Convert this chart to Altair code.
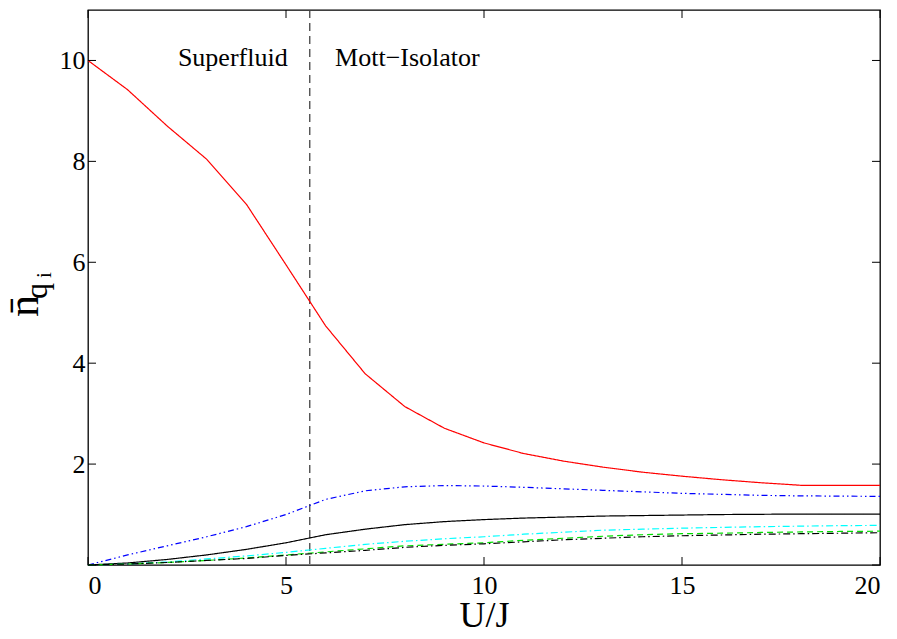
import altair as alt
import pandas as pd

# ---- data ----
u = list(range(21))
red = [10.0, 9.42, 8.70, 8.04, 7.15, 5.95, 4.74, 3.79, 3.14, 2.71, 2.42,
       2.21, 2.06, 1.94, 1.84, 1.76, 1.69, 1.63, 1.58, 1.58, 1.58]
blue = [0.0, 0.20, 0.38, 0.56, 0.76, 1.00, 1.30, 1.47, 1.55, 1.575, 1.565,
        1.54, 1.51, 1.48, 1.45, 1.42, 1.40, 1.38, 1.37, 1.365, 1.36]
black = [0.0, 0.04, 0.11, 0.20, 0.31, 0.44, 0.60, 0.71, 0.80, 0.86, 0.90,
         0.93, 0.95, 0.97, 0.98, 0.99, 1.00, 1.005, 1.01, 1.01, 1.01]
cyan = [0.0, 0.02, 0.06, 0.12, 0.18, 0.25, 0.33, 0.41, 0.47, 0.52, 0.56,
        0.61, 0.65, 0.69, 0.71, 0.73, 0.745, 0.76, 0.77, 0.78, 0.785]
green = [0.0, 0.02, 0.05, 0.09, 0.14, 0.20, 0.26, 0.32, 0.38, 0.41, 0.44,
         0.49, 0.53, 0.57, 0.60, 0.62, 0.63, 0.645, 0.655, 0.665, 0.67]
black_dd = [0.0, 0.02, 0.05, 0.09, 0.13, 0.19, 0.24, 0.29, 0.35, 0.39, 0.42,
            0.46, 0.50, 0.53, 0.56, 0.58, 0.595, 0.61, 0.62, 0.63, 0.64]

series_names = ["red", "blue", "black", "cyan", "green", "blackdd"]
series_vals = [red, blue, black, cyan, green, black_dd]
series_colors = ["#ff0000", "#0000ff", "#000000", "#00ffff", "#00e000", "#000000"]
series_dash = [[1, 0], [6, 3, 1.5, 3, 1.5, 3], [1, 0], [7, 3, 1.5, 3], [6, 4], [7, 3, 1.5, 3]]

critical_u = [5.6]
x_ticks = [0, 5, 10, 15, 20]
y_ticks = [0, 2, 4, 6, 8, 10]
y_labels = [2, 4, 6, 8, 10]
phase_text = ["Superfluid", "Mott\u2212Isolator"]
phase_x = [2.27, 6.24]
phase_y = [9.89, 9.89]

FONT = "Liberation Serif"
W, H = 792, 555

rows = []
for name, vals in zip(series_names, series_vals):
    for xv, yv in zip(u, vals):
        rows.append({"s": name, "u": xv, "n": yv})
df = pd.DataFrame(rows)

xs = alt.Scale(domain=[0, 20], nice=False)
ys = alt.Scale(domain=[0, 11], nice=False)

lines = alt.Chart(df).mark_line(strokeWidth=1.2).encode(
    x=alt.X("u:Q", scale=xs,
            axis=alt.Axis(values=x_ticks, ticks=False, domain=False, grid=False,
                          labelFontSize=26, labelFont=FONT, labelPadding=7,
                          labelColor="black",
                          title="U/J", titleFont=FONT, titleFontSize=36,
                          titleColor="black",
                          titleFontWeight="normal", titlePadding=0)),
    y=alt.Y("n:Q", scale=ys,
            axis=alt.Axis(values=y_labels, ticks=False, domain=False, grid=False,
                          labelFontSize=26, labelFont=FONT, labelPadding=3,
                          labelColor="black", title=None)),
    color=alt.Color("s:N", scale=alt.Scale(domain=series_names, range=series_colors), legend=None),
    strokeDash=alt.StrokeDash("s:N", scale=alt.Scale(domain=series_names, range=series_dash), legend=None),
    order=alt.Order("u:Q"),
)

crit = alt.Chart(pd.DataFrame({"c": critical_u})).mark_rule(
    color="#444444", strokeWidth=1.3, strokeDash=[8, 5]
).encode(x=alt.X("c:Q", scale=xs), y=alt.value(0), y2=alt.value(H))

tx = pd.DataFrame({"t": x_ticks})
ty = pd.DataFrame({"t": y_ticks})
tick_style = dict(color="black", strokeWidth=1)
xb = alt.Chart(tx).mark_rule(**tick_style).encode(
    x=alt.X("t:Q", scale=xs), y=alt.value(H), y2=alt.value(H - 8))
xt = alt.Chart(tx).mark_rule(**tick_style).encode(
    x=alt.X("t:Q", scale=xs), y=alt.value(0), y2=alt.value(8))
yl = alt.Chart(ty).mark_rule(**tick_style).encode(
    y=alt.Y("t:Q", scale=ys), x=alt.value(0), x2=alt.value(8))
yr = alt.Chart(ty).mark_rule(**tick_style).encode(
    y=alt.Y("t:Q", scale=ys), x=alt.value(W), x2=alt.value(W - 8))

phase = alt.Chart(pd.DataFrame({"t": phase_text, "x": phase_x, "y": phase_y})).mark_text(
    font=FONT, fontSize=26, align="left", baseline="alphabetic", color="black"
).encode(x=alt.X("x:Q", scale=xs), y=alt.Y("y:Q", scale=ys), text="t:N")

ytitle_n = alt.Chart(pd.DataFrame({"t": ["n\u0304"]})).mark_text(
    font=FONT, fontSize=44, angle=270, align="center", baseline="alphabetic", color="black"
).encode(x=alt.value(-50), y=alt.value(296), text="t:N")
ytitle_q = alt.Chart(pd.DataFrame({"t": ["q"]})).mark_text(
    font=FONT, fontSize=32, angle=270, align="center", baseline="alphabetic", color="black"
).encode(x=alt.value(-41), y=alt.value(281), text="t:N")
ytitle_i = alt.Chart(pd.DataFrame({"t": ["i"]})).mark_text(
    font=FONT, fontSize=21, angle=270, align="center", baseline="alphabetic", color="black"
).encode(x=alt.value(-37), y=alt.value(265), text="t:N")

chart = alt.layer(
    crit, lines, xb, xt, yl, yr, phase, ytitle_n, ytitle_q, ytitle_i
).properties(
    width=W, height=H,
    autosize=alt.AutoSizeParams(type="none"),
    padding={"left": 80, "top": 2, "right": 9, "bottom": 66},
    background="white",
).configure_view(stroke="black", strokeWidth=1.3)

chart.save("out.html", embed_options={"renderer": "svg", "actions": False})
